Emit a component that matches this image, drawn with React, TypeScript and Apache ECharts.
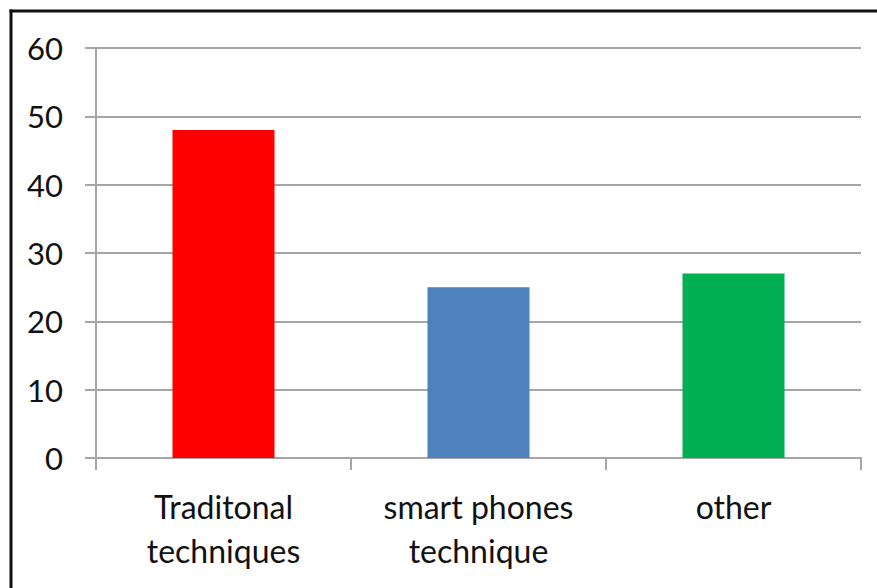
import React, { useEffect, useRef } from "react";
import * as echarts from "echarts";

// Survey result: share of respondents per technique
const categories = ["Traditonal\ntechniques", "smart phones\ntechnique", "other"];
const values = [48, 25, 27];
const barColors = ["#FF0000", "#4F81BD", "#00B050"];
const yTicks = { min: 0, max: 60, interval: 10 };

const FONT = "Lato, 'Open Sans', sans-serif";
const GRID_COLOR = "#a6a6a6";

export default function App() {
  const ref = useRef<HTMLDivElement>(null);

  useEffect(() => {
    if (!ref.current) return;
    const chart = echarts.init(ref.current, undefined, { renderer: "svg" });
    chart.setOption({
      animation: false,
      backgroundColor: "#ffffff",
      grid: { left: 96, right: 16, top: 48, bottom: 130, containLabel: false },
      xAxis: {
        type: "category",
        data: categories,
        axisLine: { show: true, lineStyle: { color: GRID_COLOR, width: 2 } },
        axisTick: { show: true, length: 12, lineStyle: { color: GRID_COLOR, width: 2 } },
        axisLabel: {
          margin: 26,
          fontSize: 32,
          lineHeight: 44,
          color: "#111111",
          fontFamily: FONT,
          interval: 0,
        },
      },
      yAxis: {
        type: "value",
        min: yTicks.min,
        max: yTicks.max,
        interval: yTicks.interval,
        axisLine: { show: true, lineStyle: { color: GRID_COLOR, width: 2 } },
        axisTick: { show: true, length: 11, lineStyle: { color: GRID_COLOR, width: 2 } },
        splitLine: { show: true, lineStyle: { color: GRID_COLOR, width: 2 } },
        axisLabel: {
          margin: 33,
          fontSize: 31,
          color: "#111111",
          fontFamily: FONT,
        },
      },
      series: [
        {
          type: "bar",
          barWidth: "40%",
          data: values.map((v, i) => ({ value: v, itemStyle: { color: barColors[i] } })),
        },
      ],
      graphic: [
        // outer frame: only its left and top edges fall inside the view
        {
          type: "line",
          shape: { x1: 11, y1: 9.5, x2: 11, y2: 588 },
          style: { stroke: "#111111", lineWidth: 3 },
          z: 100,
        },
        {
          type: "line",
          shape: { x1: 9.5, y1: 11, x2: 877, y2: 11 },
          style: { stroke: "#111111", lineWidth: 3 },
          z: 100,
        },
      ],
    });
    return () => chart.dispose();
  }, []);

  return (
    <div
      ref={ref}
      style={{ position: "absolute", left: 0, top: 0, width: 877, height: 588 }}
    />
  );
}
